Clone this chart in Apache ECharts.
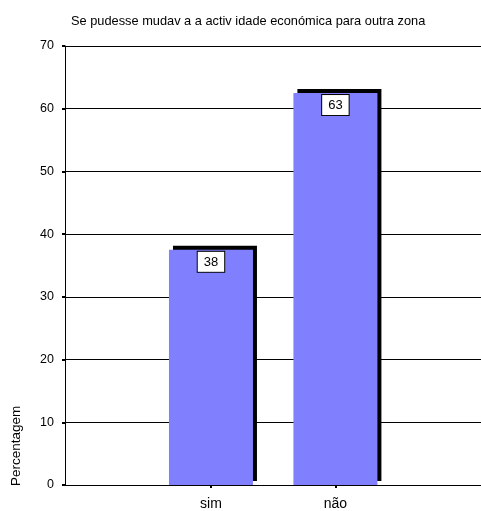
<!DOCTYPE html>
<html>
<head>
<meta charset="utf-8">
<script src="https://cdn.jsdelivr.net/npm/echarts@6/dist/echarts.min.js"></script>
<style>html,body{margin:0;padding:0;background:#fff;}#c{width:481px;height:511px;}</style>
</head>
<body>
<div id="c"></div>
<script>
const titleText = 'Se pudesse mudav a a activ idade económica para outra zona';
const categories = ['sim', 'não'];
const values = [37.5, 62.5];
const yTicks = [0, 10, 20, 30, 40, 50, 60, 70];
const yName = 'Percentagem';

const chart = echarts.init(document.getElementById('c'), null, {renderer: 'canvas'});
const font = 'Liberation Sans, Arial, sans-serif';
const positions = categories.map((c, i) => i + 1);
chart.setOption({
  animation: false,
  backgroundColor: '#fff',
  title: {
    text: titleText,
    left: 66, top: 10,
    textStyle: {fontSize: 12.8, fontWeight: 'normal', color: '#000', fontFamily: font}
  },
  grid: {left: 65, right: 0, top: 46, bottom: 26, containLabel: false},
  xAxis: {
    type: 'value',
    min: -0.173, max: 3.17,
    splitLine: {show: false},
    axisLine: {show: true, onZero: false, lineStyle: {color: '#000', width: 1}},
    axisTick: {show: true, customValues: positions, length: 3, lineStyle: {color: '#000', width: 2}},
    axisLabel: {
      customValues: positions,
      formatter: v => categories[Math.round(v) - 1] || '',
      color: '#000', fontSize: 14, fontFamily: font, margin: 12
    }
  },
  yAxis: {
    type: 'value',
    min: yTicks[0], max: yTicks[yTicks.length - 1], interval: 10,
    axisLine: {show: true, onZero: false, lineStyle: {color: '#000', width: 1}},
    axisTick: {show: true, length: 3, lineStyle: {color: '#000', width: 2}},
    axisLabel: {color: '#000', fontSize: 12.5, fontFamily: font, margin: 11},
    splitLine: {show: true, lineStyle: {color: '#000', width: 1}}
  },
  graphic: [{
    type: 'text',
    x: 16, y: 486,
    rotation: Math.PI / 2,
    style: {text: yName, fontSize: 13.5, fontFamily: font, fill: '#000', textAlign: 'left', textVerticalAlign: 'middle'}
  }],
  series: [{
    type: 'bar',
    barWidth: 84,
    data: values.map((v, i) => [positions[i], v]),
    itemStyle: {
      color: '#8080FF',
      shadowColor: '#000', shadowBlur: 0, shadowOffsetX: 4, shadowOffsetY: -4
    },
    label: {
      show: true,
      position: 'insideTop',
      distance: 2,
      formatter: p => String(Math.round(p.value[1])),
      color: '#000', fontSize: 13, fontFamily: font,
      backgroundColor: '#fff', borderColor: '#000', borderWidth: 1,
      padding: [4, 6, 3, 6]
    }
  }]
});
</script>
</body>
</html>
